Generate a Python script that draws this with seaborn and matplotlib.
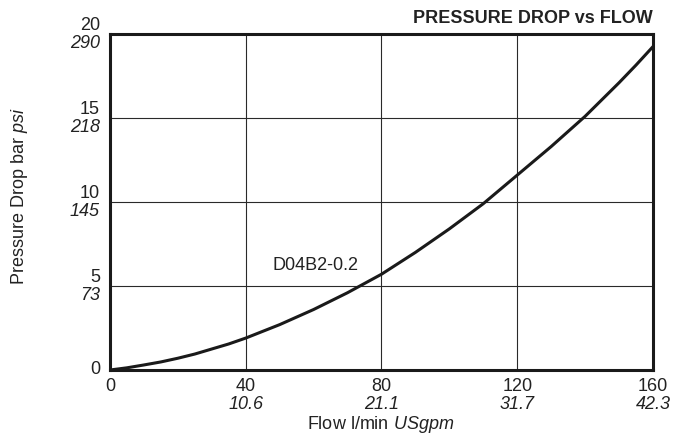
import matplotlib
matplotlib.use("Agg")
import matplotlib.pyplot as plt
import seaborn as sns
import pandas as pd

# Pressure drop curve for D04B2-0.2
flow_lpm = [0, 5, 10, 15, 20, 25, 30, 35, 40, 45, 50, 55, 60, 65, 70, 75, 80,
            85, 90, 95, 100, 105, 110, 115, 120, 125, 130, 135, 140, 145, 150, 155, 160]
drop_bar = [0, 0.13, 0.3, 0.48, 0.7, 0.95, 1.25, 1.55, 1.9, 2.3, 2.7, 3.15, 3.6, 4.1, 4.6, 5.15, 5.7,
            6.35, 7.0, 7.7, 8.4, 9.15, 9.9, 10.75, 11.6, 12.45, 13.3, 14.2, 15.1, 16.1, 17.1, 18.15, 19.25]

x_ticks = [0, 40, 80, 120, 160]
x_ticks_usgpm = ["", "10.6", "21.1", "31.7", "42.3"]
y_ticks = [0, 5, 10, 15, 20]
y_ticks_psi = ["", "73", "145", "218", "290"]

series_label = "D04B2-0.2"
title = "PRESSURE DROP vs FLOW"

sns.set_style("white")
plt.rcParams["font.family"] = ["Liberation Sans", "DejaVu Sans"]
plt.rcParams["mathtext.fontset"] = "custom"
plt.rcParams["mathtext.rm"] = "Liberation Sans"
plt.rcParams["mathtext.it"] = "Liberation Sans:italic"

FS = 13
TXT = "#222222"

fig = plt.figure(figsize=(6.87, 4.37), dpi=100)
ax = fig.add_axes([0.160, 0.1533, 0.7905, 0.7689])

df = pd.DataFrame({"flow": flow_lpm, "drop": drop_bar})
sns.lineplot(data=df, x="flow", y="drop", ax=ax, color="#1a1a1a", linewidth=2.2)

ax.set_xlim(0, 160)
ax.set_ylim(0, 20)
ax.set_xticks(x_ticks)
ax.set_yticks(y_ticks)
ax.set_xticklabels([])
ax.set_yticklabels([])
ax.tick_params(length=0)
ax.grid(True, color="#2a2a2a", linewidth=0.8)
for s in ax.spines.values():
    s.set_visible(True)
    s.set_color("#1a1a1a")
    s.set_linewidth(2.2)
ax.set_xlabel("")
ax.set_ylabel("")

# two-line tick labels: metric value above, US value in italic below
for v, us in zip(x_ticks, x_ticks_usgpm):
    ax.annotate(str(v), xy=(v, 0), xycoords=("data", "axes fraction"),
                xytext=(0, -12), textcoords="offset points",
                ha="center", va="center", fontsize=FS, color=TXT)
    if us:
        ax.annotate(us, xy=(v, 0), xycoords=("data", "axes fraction"),
                    xytext=(0, -24.8), textcoords="offset points",
                    ha="center", va="center", fontsize=FS, color=TXT,
                    style="italic")

for v, us in zip(y_ticks, y_ticks_psi):
    if us:
        ax.annotate(str(v), xy=(0, v), xycoords=("axes fraction", "data"),
                    xytext=(-7.2, 6.0), textcoords="offset points",
                    ha="right", va="center", fontsize=FS, color=TXT)
        ax.annotate(us, xy=(0, v), xycoords=("axes fraction", "data"),
                    xytext=(-7.2, -6.5), textcoords="offset points",
                    ha="right", va="center", fontsize=FS, color=TXT,
                    style="italic")
    else:
        ax.annotate(str(v), xy=(0, v), xycoords=("axes fraction", "data"),
                    xytext=(-7.2, 0.5), textcoords="offset points",
                    ha="right", va="center", fontsize=FS, color=TXT)

ax.text(48, 6.25, series_label, fontsize=FS, color=TXT, ha="left", va="center")

fig.text(0.9505, 0.957, title, ha="right", va="center",
         fontsize=FS, fontweight="bold", color=TXT)

fig.text(0.5545, 0.029, r"Flow l/min $\mathit{USgpm}$", ha="center", va="center",
         fontsize=FS, color=TXT)
fig.text(0.029, 0.551, r"Pressure Drop bar $\mathit{psi}$", ha="center", va="center",
         rotation=90, fontsize=FS, color=TXT)

fig.savefig("out.png", dpi=100)
